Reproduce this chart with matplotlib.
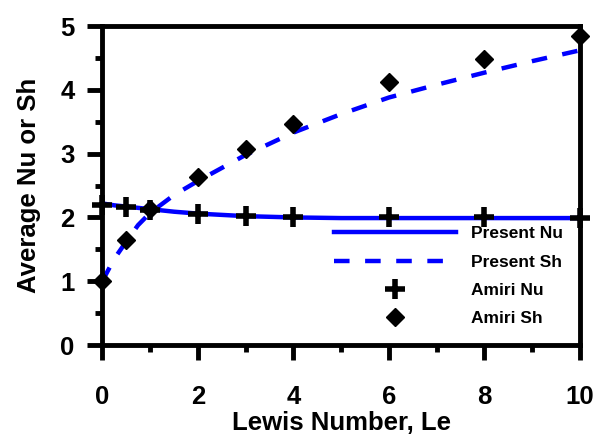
import matplotlib
matplotlib.use("Agg")
import matplotlib.pyplot as plt
from matplotlib.ticker import MultipleLocator

plt.rcParams["font.family"] = ["Liberation Sans", "DejaVu Sans"]
plt.rcParams["font.weight"] = "bold"

# present results (smooth curves)
le_line = [0, 0.25, 0.5, 0.75, 1, 1.5, 2, 3, 4, 5, 6, 7, 8, 9, 10]
nu_line = [2.22, 2.19, 2.17, 2.15, 2.13, 2.09, 2.06, 2.02, 2.00, 1.99, 1.99, 1.99, 1.99, 1.99, 1.99]
sh_line = [1.0, 1.35, 1.62, 1.88, 2.07, 2.35, 2.57, 2.98, 3.33, 3.62, 3.88, 4.08, 4.27, 4.45, 4.62]

# Amiri data points
le_pts = [0, 0.5, 1, 2, 3, 4, 6, 8, 10]
nu_pts = [2.2, 2.17, 2.12, 2.06, 2.02, 2.0, 2.0, 2.0, 1.99]
sh_pts = [1.0, 1.65, 2.13, 2.64, 3.08, 3.47, 4.13, 4.49, 4.84]

fig = plt.figure(figsize=(5.98, 4.34), dpi=100)
ax = fig.add_axes([0.171, 0.205, 0.799, 0.735])

ax.plot(le_line, nu_line, color="#0000ff", lw=3.2, label="Present Nu")
ax.plot(le_line, sh_line, color="#0000ff", lw=3.2, linestyle=(0, (3.5, 3.5)),
        label="Present Sh")
ax.plot(le_pts, nu_pts, "+", color="black", ms=14, mew=4, clip_on=False,
        label="Amiri Nu", zorder=4)
ax.plot(le_pts, sh_pts, "D", color="black", ms=9.5, clip_on=False,
        label="Amiri Sh", zorder=4)

ax.set_xlim(0, 10)
ax.set_ylim(0, 5)
ax.xaxis.set_major_locator(MultipleLocator(2))
ax.xaxis.set_minor_locator(MultipleLocator(1))
ax.yaxis.set_major_locator(MultipleLocator(1))
ax.yaxis.set_minor_locator(MultipleLocator(0.5))

for s in ax.spines.values():
    s.set_linewidth(3.5)
ax.tick_params(which="major", direction="out", length=11, width=3.5,
               labelsize=18.5, pad=18)
ax.tick_params(which="minor", direction="out", length=5, width=3.5)
ax.tick_params(axis="y", which="major", pad=9)

ax.set_xlabel("Lewis Number, Le", fontsize=18.5, fontweight="bold", labelpad=1)
ax.set_ylabel("Average Nu or Sh", fontsize=18.5, fontweight="bold", labelpad=14)

ax.legend(loc="lower right", bbox_to_anchor=(0.99, 0.02), frameon=False,
          fontsize=12.5, handlelength=7.0, handletextpad=0.9,
          labelspacing=0.76, borderaxespad=0.3)

fig.savefig("out.png", dpi=100)
